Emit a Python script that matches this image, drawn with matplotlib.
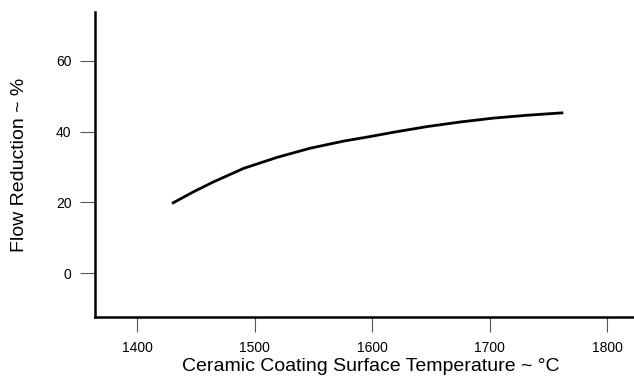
import matplotlib.pyplot as plt

# values
temperature = [1429.5, 1447.9, 1464.9, 1490.5, 1518.9, 1547.2, 1575.6,
               1598.3, 1618.1, 1646.6, 1674.9, 1703.2, 1731.7, 1762.8]
flow_reduction = [19.7, 23.0, 25.8, 29.6, 32.7, 35.3, 37.3,
                  38.6, 39.8, 41.4, 42.7, 43.8, 44.6, 45.3]

x_ticks = [1400, 1500, 1600, 1700, 1800]
y_ticks = [0, 20, 40, 60]

plt.rcParams['font.family'] = ['Liberation Sans', 'DejaVu Sans']

fig = plt.figure(figsize=(6.34, 3.83), dpi=100)
ax = fig.add_axes([0.150, 0.172, 0.850, 0.797])

ax.plot(temperature, flow_reduction, color='black', lw=2.0,
        solid_capstyle='butt', solid_joinstyle='round')

ax.set_xlim(1364, 1823)
ax.set_ylim(-12.4, 73.8)
ax.set_xticks(x_ticks)
ax.set_yticks(y_ticks)

for side in ['top', 'right']:
    ax.spines[side].set_visible(False)
for side in ['left', 'bottom']:
    ax.spines[side].set_linewidth(1.8)
    ax.spines[side].set_color('black')

ax.tick_params(axis='both', direction='out', length=11, width=0.8,
               color='#555555', labelsize=10, pad=6)

ax.set_xlabel('Ceramic Coating Surface Temperature ~ °C', fontsize=14,
              labelpad=3)
ax.xaxis.set_label_coords(0.512, -0.135)
ax.set_ylabel('Flow Reduction ~ %', fontsize=14, labelpad=20)

fig.savefig('out.png', dpi=100)
